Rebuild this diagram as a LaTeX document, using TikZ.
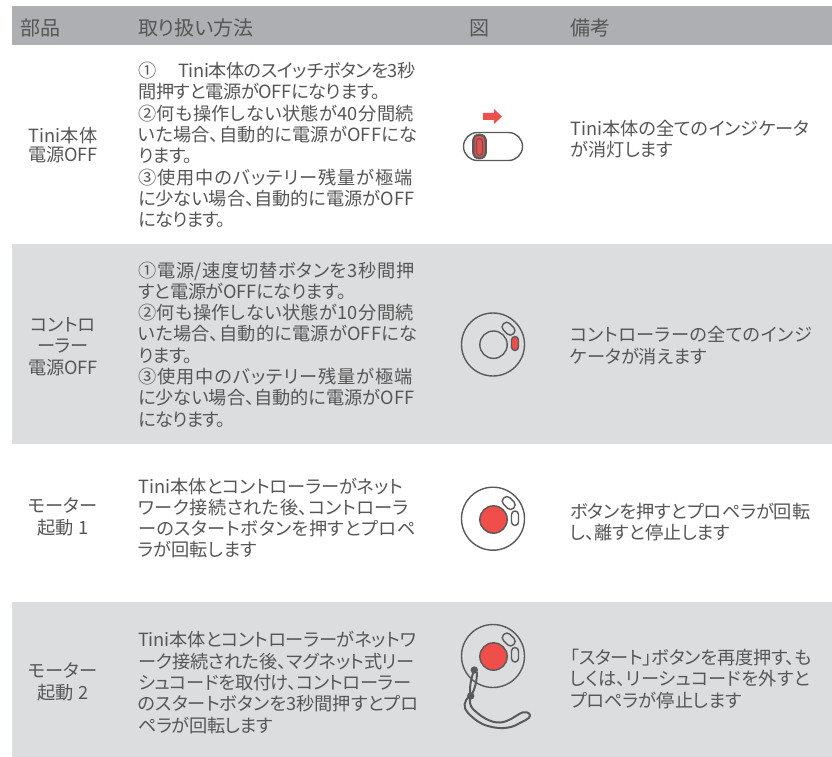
\documentclass[tikz,border=0pt]{standalone}
\usepackage{fontspec}
\setmainfont[RawFeature={+palt}]{Noto Sans CJK JP}
\newcommand{\ls}[2]{{\addfontfeatures{LetterSpace=#1}#2}}
\definecolor{txt}{HTML}{565656}
\definecolor{hdr}{HTML}{AEAFB2}
\definecolor{band}{HTML}{DCDDDF}
\definecolor{ico}{HTML}{5A5A5A}
\definecolor{redd}{HTML}{F04E4B}
\tikzset{
 cell/.style={inner sep=0pt,text=txt,font=\fontsize{18.2}{21.3}\selectfont},
 body/.style={cell,anchor=west,align=left},
 part/.style={cell,anchor=center,align=center},
 head/.style={inner sep=0pt,text=txt,anchor=west,font=\fontsize{20}{22}\selectfont},
 ln/.style={draw=ico,line width=1.4pt},
 strap/.style={draw=ico,line width=2pt,line join=round}
}
\begin{document}
\begin{tikzpicture}[x=1pt,y=-1pt]
\useasboundingbox (0,0) rectangle (832,757);
\fill[white] (0,0) rectangle (832,757);
\fill[hdr] (12,6) rectangle (832,45);
\fill[band] (12,244) rectangle (832,444);
\fill[band] (12,602) rectangle (832,757);
\node[head] (h1) at (20,28) {部品};
\node[head] (h2) at (138,28) {取り扱い方法};
\node[head] (h3) at (469,28) {図};
\node[head] (h4) at (570,28) {備考};
\node[part,font=\fontsize{18.2}{19.5}\selectfont] (p1) at (63,145) {Tini本体\\電源OFF};
\node[part] (p2) at (63,346.5) {コントロ\\ーラー\\電源OFF};
\node[part] (p3) at (63,517) {モーター\\起動 1};
\node[part] (p4) at (63,682) {モーター\\起動 2};
\node[body] (m1) at (138,145) {①\hspace{1.2em}\ls{-2.2}{Tini本体のスイッチボタンを3秒}\\\ls{-2}{間押すと電源がOFFになります。}\\\ls{2.3}{②何も操作しない状態が40分間続}\\\ls{1.2}{いた場合、自動的に電源がOFFにな}\\\ls{-3}{ります。}\\\ls{5.1}{③使用中のバッテリー残量が極端}\\に少ない場合、自動的に電源がOFF\\\ls{-4}{になります。}};
\node[body] (m2) at (138,344.5) {\ls{3.9}{①電源/速度切替ボタンを3秒間押}\\\ls{-1.5}{すと電源がOFFになります。}\\\ls{2.3}{②何も操作しない状態が10分間続}\\\ls{1.2}{いた場合、自動的に電源がOFFにな}\\\ls{-3}{ります。}\\\ls{5.1}{③使用中のバッテリー残量が極端}\\に少ない場合、自動的に電源がOFF\\\ls{-4}{になります。}};
\node[body] (m3) at (138,518) {Tini本体とコントローラーがネット\\\ls{2.2}{ワーク接続された後、コントローラ}\\\ls{2.7}{ーのスタートボタンを押すとプロペ}\\ラが回転します};
\node[body] (m4) at (138,682.5) {\ls{-1}{Tini本体とコントローラーがネットワ}\\\ls{-1}{ーク接続された後、マグネット式リー}\\\ls{-1.6}{シュコードを取付け、コントローラー}\\のスタートボタンを3秒間押すとプロ\\\ls{-2}{ペラが回転します}};
\node[body] (n1) at (570,139) {Tini本体の全てのインジケータ\\が消灯します};
\node[body] (n2) at (570,345.5) {\ls{2}{コントローラーの全てのインジ}\\ケータが消えます};
\node[body] (n3) at (570,522) {ボタンを押すとプロペラが回転\\し、離すと停止します};
\node[body] (n4) at (570,679) {\ls{-1}{「スタート」ボタンを再度押す、も}\\\ls{1}{しくは、リーシュコードを外すと}\\プロペラが停止します};
% switch icon
\fill[redd] (483,113) -- (494,113) -- (494,109) -- (502,116.5) -- (494,124) -- (494,120) -- (483,120) -- cycle;
\draw[ln,rounded corners=14pt] (463.5,132.5) rectangle (522.5,160.5);
\draw[draw=ico,fill=ico,line width=0.6pt,rounded corners=6.5pt] (472.5,134) rectangle (486.5,159);
\fill[redd,rounded corners=4pt] (474.5,136) rectangle (484.5,157);
\draw[draw=ico,line width=1.2pt,rounded corners=3pt] (476.5,138.5) rectangle (482.5,155.5);
% controller 2
\draw[ln] (493,344.5) circle (31.5);
\draw[ln] (493.5,344.7) circle (13.7);
\draw[ln,rotate around={-45:(508.5,328.7)},rounded corners=4pt] (501.5,324.2) rectangle (515.5,333.2);
\draw[ln,fill=redd,rounded corners=3.5pt] (511.5,336.5) rectangle (518.5,350.5);
% controller 3
\draw[ln] (493,518.7) circle (31.5);
\draw[ln,fill=redd] (493.5,519.5) circle (13.7);
\draw[ln,rotate around={-45:(508.7,503)},rounded corners=4pt] (501.7,498.5) rectangle (515.7,507.5);
\draw[ln,rounded corners=3.5pt] (511.5,511) rectangle (518.5,525.5);
% controller 4
\draw[ln] (493,656) circle (31.5);
\draw[ln,fill=redd] (493.5,656.5) circle (13.7);
\draw[ln,rotate around={-45:(508.7,639.5)},rounded corners=4pt] (501.7,635) rectangle (515.7,644);
\draw[ln,rounded corners=3.5pt] (511.5,647.5) rectangle (518.5,662);
% strap
\coordinate (k1) at (474.3,670);
\coordinate (k2) at (470.7,696);
\draw[strap] (k1) .. controls (471,678) and (469,688) .. (k2);
\draw[strap] (477,672) .. controls (477,680) and (475,690) .. (k2);
\draw[strap] (k2) .. controls (463,700) and (463,708) .. (468,713) .. controls (474,719) and (480,724) .. (488,726) .. controls (498,729) and (510,729) .. (518,724) .. controls (523,721) and (530,719) .. (530,715.5) .. controls (530,712) and (524,711) .. (520,713.5) .. controls (514,717) and (508,722) .. (500,722.5) .. controls (490,723) and (480,716) .. (473,709) .. controls (470,706) and (469,701) .. (k2);
\fill[ico] (k1) circle (3.7);
\fill[ico] (k2) circle (3.7);
\end{tikzpicture}
\end{document}
